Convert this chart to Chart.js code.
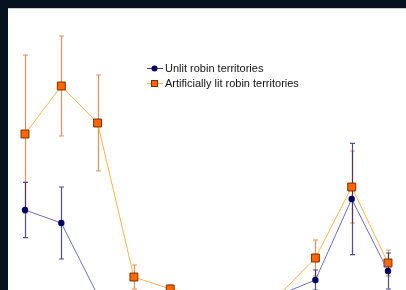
<!DOCTYPE html>
<html>
<head>
<meta charset="utf-8">
<script src="https://cdn.jsdelivr.net/npm/chart.js@4.4.0/dist/chart.umd.min.js"></script>
<style>
  html, body { margin: 0; padding: 0; background: #03121e; overflow: hidden; width: 406px; height: 290px; }
  #wrap { position: absolute; left: 8px; top: 8px; width: 398px; height: 340px; background: #fff; border-top: 1px solid #c9ced3; box-sizing: border-box; }
</style>
</head>
<body>
<div id="wrap"><canvas id="chartCanvas" width="398" height="340"></canvas></div>
<script>
// Dados do gráfico (a parte de baixo do gráfico fica fora da imagem)
const months = ['Jan', 'Feb', 'Mar', 'Apr', 'May', 'Jun', 'Jul', 'Aug', 'Sep', 'Oct', 'Nov'];
const unlitValues = [5.55, 4.9, 1.3, 1.0, 0.9, 0.8, 0.9, 1.3, 2.05, 6.1, 2.5];
const unlitErrors = [1.38, 1.8, 0.1, 0.2, 0.2, 0.2, 0.2, 0.1, 0.5, 2.78, 0.9];
const litValues = [9.35, 11.75, 9.9, 2.2, 1.6, 1.25, 1.0, 1.3, 3.15, 6.7, 2.9];
const litErrors = [3.95, 2.5, 2.4, 0.6, 0.2, 0.15, 0.2, 0.1, 0.9, 1.8, 0.65];
const seriesNames = ['Unlit robin territories', 'Artificially lit robin territories'];

// Barras de erro desenhadas com as escalas do gráfico
const errorBars = {
    id: 'errorBars',
    beforeDatasetsDraw(chart) {
        const ctx = chart.ctx;
        const x = chart.scales.x, y = chart.scales.y;
        const sets = [
            { vals: litValues, errs: litErrors, color: 'rgba(224, 118, 40, 0.8)' },
            { vals: unlitValues, errs: unlitErrors, color: 'rgba(20, 20, 110, 0.75)' }
        ];
        ctx.save();
        ctx.lineWidth = 1.2;
        sets.forEach(s => {
            ctx.strokeStyle = s.color;
            s.vals.forEach((v, i) => {
                const px = Math.round(x.getPixelForValue(i)) + 0.5;
                const top = y.getPixelForValue(v + s.errs[i]);
                const bot = y.getPixelForValue(v - s.errs[i]);
                ctx.beginPath();
                ctx.moveTo(px, top); ctx.lineTo(px, bot);
                ctx.moveTo(px - 2.5, top); ctx.lineTo(px + 2.5, top);
                ctx.moveTo(px - 2.5, bot); ctx.lineTo(px + 2.5, bot);
                ctx.stroke();
            });
        });
        ctx.restore();
    }
};

// Legenda dentro da área do gráfico
const legendBox = {
    id: 'legendBox',
    afterDraw(chart) {
        const ctx = chart.ctx;
        ctx.save();
        ctx.font = '11px "Liberation Sans", Arial, sans-serif';
        ctx.textBaseline = 'middle';
        // linha 1
        ctx.strokeStyle = '#3a3a9a';
        ctx.lineWidth = 1;
        ctx.beginPath(); ctx.moveTo(139, 59.5); ctx.lineTo(155, 59.5); ctx.stroke();
        ctx.fillStyle = '#000066';
        ctx.beginPath(); ctx.arc(146.5, 59.5, 3, 0, Math.PI * 2); ctx.fill();
        ctx.fillStyle = '#111';
        ctx.fillText(seriesNames[0], 157, 60);
        // linha 2
        ctx.strokeStyle = '#ffb347';
        ctx.beginPath(); ctx.moveTo(139, 74.5); ctx.lineTo(155, 74.5); ctx.stroke();
        ctx.fillStyle = '#ff6600';
        ctx.strokeStyle = '#7a3000';
        ctx.fillRect(143, 71, 7, 7);
        ctx.strokeRect(143.5, 71.5, 6, 6);
        ctx.fillStyle = '#111';
        ctx.fillText(seriesNames[1], 157, 75);
        ctx.restore();
    }
};

const ctx = document.getElementById('chartCanvas').getContext('2d');
const myChart = new Chart(ctx, {
    type: 'line',
    data: {
        labels: months,
        datasets: [{
            label: seriesNames[0],
            data: unlitValues,
            borderColor: '#6c6cbc',
            borderWidth: 1,
            pointStyle: 'circle',
            pointRadius: 3.2,
            pointBackgroundColor: '#000066',
            pointBorderColor: '#000066',
            pointBorderWidth: 0,
            tension: 0
        }, {
            label: seriesNames[1],
            data: litValues,
            borderColor: '#ffb347',
            borderWidth: 1,
            pointStyle: 'rect',
            pointRadius: 5.6,
            pointBackgroundColor: '#ff6600',
            pointBorderColor: '#7a3000',
            pointBorderWidth: 1,
            tension: 0
        }]
    },
    options: {
        responsive: false,
        animation: false,
        layout: { padding: { left: 17, right: 18, top: 0, bottom: 28 } },
        scales: {
            x: { display: false, offset: false },
            y: { display: false, min: 0, max: 15.27 }
        },
        plugins: {
            legend: { display: false },
            tooltip: { enabled: false }
        }
    },
    plugins: [errorBars, legendBox]
});
</script>
</body>
</html>
